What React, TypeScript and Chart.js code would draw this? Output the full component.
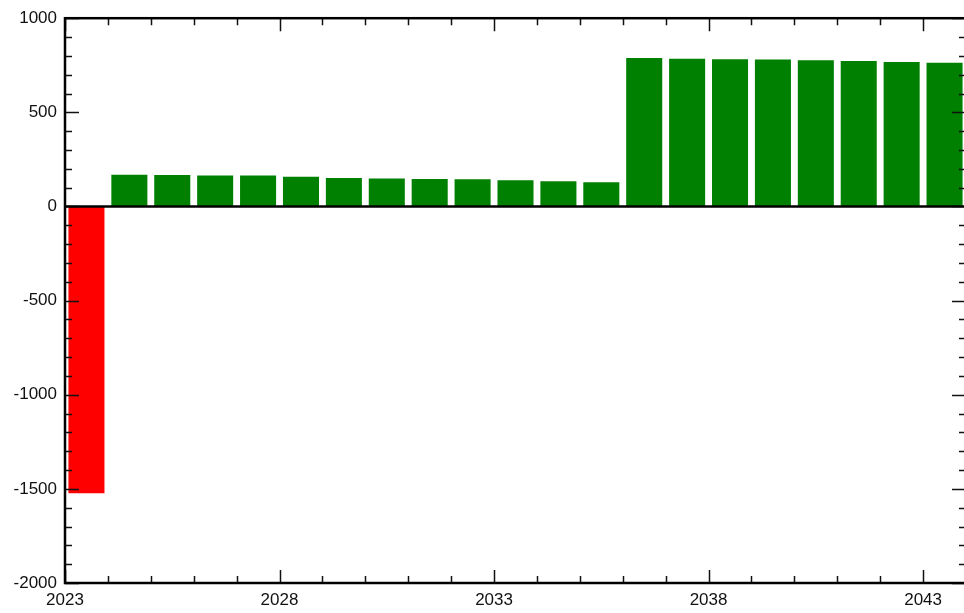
import { useEffect, useRef } from 'react';
import { Chart, registerables } from 'chart.js';

Chart.register(...registerables);

// ---- data ----
const years: number[] = [
  2023, 2024, 2025, 2026, 2027, 2028, 2029, 2030, 2031, 2032, 2033,
  2034, 2035, 2036, 2037, 2038, 2039, 2040, 2041, 2042, 2043,
];
const values: number[] = [
  -1523, 169, 167, 165, 164, 158, 151, 148, 146, 144, 139,
  134, 128, 789, 785, 782, 780, 776, 773, 767, 764,
];
const yMin = -2000;
const yMax = 1000;
const yMajorStep = 500;
const yMinorStep = 100;
const xMin = 2023;
const xMax = 2044;
const xMajorEvery = 5;

const POS_COLOR = '#008000';
const NEG_COLOR = '#ff0000';

const framePlugin = {
  id: 'frameTicks',
  afterDraw(chart: any) {
    const { ctx, chartArea } = chart;
    const { left, right, top, bottom } = chartArea;
    const ys = chart.scales.y;
    const xs = chart.scales.xt;
    ctx.save();
    // ticks
    ctx.strokeStyle = '#111';
    ctx.lineWidth = 1.5;
    ctx.beginPath();
    for (let v = yMin; v <= yMax; v += yMinorStep) {
      const py = Math.round(ys.getPixelForValue(v)) + 0.5;
      const len = v % yMajorStep === 0 ? 14 : 7;
      ctx.moveTo(left, py);
      ctx.lineTo(left + len, py);
      ctx.moveTo(right, py);
      ctx.lineTo(right - len, py);
    }
    for (let yr = xMin; yr <= xMax; yr++) {
      const px = Math.round(xs.getPixelForValue(yr)) + 0.5;
      const len = (yr - xMin) % xMajorEvery === 0 ? 13 : 7;
      ctx.moveTo(px, bottom);
      ctx.lineTo(px, bottom - len);
      ctx.moveTo(px, top);
      ctx.lineTo(px, top + len);
    }
    ctx.stroke();
    // zero line
    const zy = ys.getPixelForValue(0);
    ctx.strokeStyle = '#000';
    ctx.lineWidth = 2.5;
    ctx.beginPath();
    ctx.moveTo(left, zy);
    ctx.lineTo(right, zy);
    ctx.stroke();
    // frame
    ctx.lineWidth = 2.5;
    ctx.strokeRect(left, top, right - left, bottom - top);
    ctx.restore();
  },
};

export default function App() {
  const canvasRef = useRef<HTMLCanvasElement | null>(null);

  useEffect(() => {
    if (!canvasRef.current) return;
    const font = { family: '"Liberation Sans", Arial, sans-serif', size: 17 };
    const chart = new Chart(canvasRef.current, {
      type: 'bar',
      data: {
        labels: years.map(String),
        datasets: [
          {
            data: values,
            backgroundColor: values.map((v) => (v < 0 ? NEG_COLOR : POS_COLOR)),
            borderWidth: 0,
            barPercentage: 0.84,
            categoryPercentage: 1,
            xAxisID: 'x',
            yAxisID: 'y',
          },
        ],
      },
      options: {
        responsive: false,
        animation: false,
        devicePixelRatio: 1,
        layout: { padding: { top: 15, right: 14, left: 0, bottom: 0 } },
        plugins: { legend: { display: false }, tooltip: { enabled: false } },
        scales: {
          x: {
            type: 'category',
            display: false,
            offset: true,
          },
          xt: {
            type: 'linear',
            position: 'bottom',
            offset: false,
            min: xMin,
            max: xMax,
            grid: { display: false, offset: false, drawTicks: false, tickLength: 0 },
            border: { display: false },
            ticks: {
              stepSize: 1,
              autoSkip: false,
              maxRotation: 0,
              minRotation: 0,
              padding: 7,
              color: '#111',
              font,
              callback: (v: any) =>
                (Number(v) - xMin) % xMajorEvery === 0 ? String(v) : '',
            },
            afterFit: (s: any) => {
              s.height = 30;
            },
          },
          y: {
            type: 'linear',
            position: 'left',
            min: yMin,
            max: yMax,
            grid: { display: false, drawTicks: false, tickLength: 0 },
            border: { display: false },
            ticks: {
              stepSize: yMajorStep,
              padding: 8,
              color: '#111',
              font,
              callback: (v: any) => String(v),
            },
            afterFit: (s: any) => {
              s.width = 65;
            },
          },
        },
      },
      plugins: [framePlugin],
    });
    return () => chart.destroy();
  }, []);

  return (
    <div
      style={{
        position: 'fixed',
        left: 0,
        top: 0,
        width: 964,
        height: 613,
        overflow: 'hidden',
        background: '#fff',
      }}
    >
      <canvas ref={canvasRef} width={980} height={613} style={{ display: 'block' }} />
    </div>
  );
}
